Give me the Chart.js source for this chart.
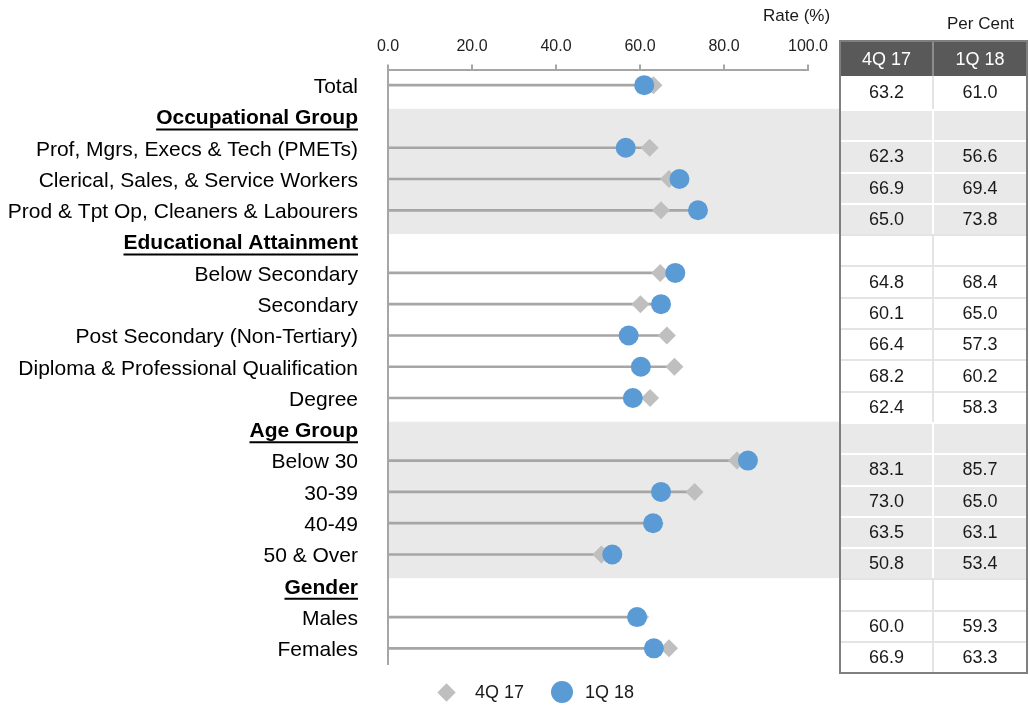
<!DOCTYPE html>
<html>
<head>
<meta charset="utf-8">
<script src="https://cdn.jsdelivr.net/npm/chart.js@4"></script>
<style>
  body { margin: 0; background: #fff; font-family: "Liberation Sans", Arial, sans-serif; }
  #wrap { position: relative; width: 1030px; height: 707px; overflow: hidden; }
  canvas { position: absolute; left: 0; top: 0; }
  .note { position: absolute; font-size: 17px; color: #1a1a1a; white-space: nowrap; }
  #tbl { position: absolute; left: 839px; top: 40px; width: 185px; border: 2px solid #7f7f7f; }
  .row { display: flex; }
  .cell { box-sizing: border-box; display: flex; align-items: center; justify-content: center; font-size: 18px; color: #1a1a1a; }
  .cell.c0 { width: 93px; }
  .cell.c1 { width: 92px; }
  .head .cell { background: #595959; color: #fff; }
  .head .c0 { border-right: 2px solid #8c8c8c; }
  .legend { position: absolute; top: 681px; font-size: 18px; color: #1a1a1a; line-height: 22px; }
  .dia { position: absolute; width: 13px; height: 13px; background: #bfbfbf; transform: rotate(45deg); }
  .dot { position: absolute; width: 22px; height: 22px; border-radius: 50%; background: #5b9bd5; }
</style>
</head>
<body>
<div id="wrap">
  <canvas id="chart" width="1030" height="707"></canvas>
  <div class="note" style="left:763px; top:6px;">Rate (%)</div>
  <div class="note" style="left:947px; top:14px;">Per Cent</div>
  <div id="tbl"></div>
  <div class="dia" style="left:440px; top:686px;"></div>
  <div class="legend" style="left:475px;">4Q 17</div>
  <div class="dot" style="left:551px; top:681px;"></div>
  <div class="legend" style="left:585px;">1Q 18</div>
</div>
<script>
const categories = [
    'Total',
    'Occupational Group',
    'Prof, Mgrs, Execs & Tech (PMETs)',
    'Clerical, Sales, & Service Workers',
    'Prod & Tpt Op, Cleaners & Labourers',
    'Educational Attainment',
    'Below Secondary',
    'Secondary',
    'Post Secondary (Non-Tertiary)',
    'Diploma & Professional Qualification',
    'Degree',
    'Age Group',
    'Below 30',
    '30-39',
    '40-49',
    '50 & Over',
    'Gender',
    'Males',
    'Females'
];
const q4_17 = [63.2, null, 62.3, 66.9, 65.0, null, 64.8, 60.1, 66.4, 68.2, 62.4, null, 83.1, 73.0, 63.5, 50.8, null, 60.0, 66.9];
const q1_18 = [61.0, null, 56.6, 69.4, 73.8, null, 68.4, 65.0, 57.3, 60.2, 58.3, null, 85.7, 65.0, 63.1, 53.4, null, 59.3, 63.3];
const headers = ['Occupational Group', 'Educational Attainment', 'Age Group', 'Gender'];
const shaded = [['Occupational Group', 'Prod & Tpt Op, Cleaners & Labourers'], ['Age Group', '50 & Over']];
const seriesNames = ['4Q 17', '1Q 18'];

const FONT = '"Liberation Sans", Arial, sans-serif';
const LABEL_SIZE = 21;
const LABEL_SHIFT = 2;
const BAND = '#e9e9e9';
const BAND_SHIFT = 8;   // the shaded rows sit a little lower than the label rows

const isHeader = (i) => headers.includes(categories[i]);
const inBand = (i) => shaded.some(([a, b]) => i >= categories.indexOf(a) && i <= categories.indexOf(b));
const stems = categories.map((c, i) => (q4_17[i] == null && q1_18[i] == null) ? null : Math.max(q4_17[i], q1_18[i]));

// right-hand table
const tbl = document.getElementById('tbl');
const head = document.createElement('div');
head.className = 'row head';
head.innerHTML = `<div class="cell c0" style="height:34px">${seriesNames[0]}</div><div class="cell c1" style="height:34px">${seriesNames[1]}</div>`;
tbl.appendChild(head);
categories.forEach((c, i) => {
    const h = i === 0 ? 33 : 31.3;
    const bg = inBand(i) ? BAND : '#fff';
    const line = inBand(i) ? '#fff' : '#e4e4e4';
    const fmt = (v) => v == null ? '' : v.toFixed(1);
    const r = document.createElement('div');
    r.className = 'row';
    r.innerHTML = `<div class="cell c0" style="height:${h}px;background:${bg};border-right:2px solid ${line};border-top:${i ? 2 : 0}px solid ${line}">${fmt(q4_17[i])}</div>` +
                  `<div class="cell c1" style="height:${h}px;background:${bg};border-top:${i ? 2 : 0}px solid ${line}">${fmt(q1_18[i])}</div>`;
    tbl.appendChild(r);
});

const bandPlugin = {
    id: 'bands',
    beforeDraw(chart) {
        const { ctx, chartArea, scales: { y } } = chart;
        const step = y.getPixelForValue(1) - y.getPixelForValue(0);
        ctx.save();
        ctx.fillStyle = BAND;
        shaded.forEach(([a, b]) => {
            const top = y.getPixelForValue(categories.indexOf(a)) - step / 2 + BAND_SHIFT;
            const bot = y.getPixelForValue(categories.indexOf(b)) + step / 2 + BAND_SHIFT;
            ctx.fillRect(chartArea.left, top, 842 - chartArea.left, bot - top);
        });
        ctx.restore();
    },
    afterDraw(chart) {
        const { ctx, scales: { y } } = chart;
        ctx.save();
        ctx.font = `bold ${LABEL_SIZE}px ${FONT}`;
        ctx.strokeStyle = '#000';
        ctx.lineWidth = 2;
        categories.forEach((c, i) => {
            if (!isHeader(i)) return;
            const right = y.right - 30;
            const w = ctx.measureText(c).width;
            const yy = y.getPixelForValue(i) + LABEL_SHIFT + 11;
            ctx.beginPath();
            ctx.moveTo(right - w, yy);
            ctx.lineTo(right, yy);
            ctx.stroke();
        });
        ctx.restore();
    }
};

new Chart(document.getElementById('chart'), {
    data: {
        labels: categories,
        datasets: [
            { type: 'line', label: seriesNames[1], data: q1_18, showLine: false, order: 1,
              pointStyle: 'circle', pointRadius: 10, pointHoverRadius: 10, pointBorderWidth: 0,
              backgroundColor: '#5b9bd5', borderColor: '#5b9bd5' },
            { type: 'line', label: seriesNames[0], data: q4_17, showLine: false, order: 2,
              pointStyle: 'rectRot', pointRadius: 9, pointHoverRadius: 9, pointBorderWidth: 0,
              backgroundColor: '#bfbfbf', borderColor: '#bfbfbf' },
            { type: 'bar', label: 'stem', data: stems, order: 3,
              barThickness: 2, backgroundColor: '#a6a6a6', borderWidth: 0 }
        ]
    },
    options: {
        indexAxis: 'y',
        responsive: false,
        animation: false,
        layout: { padding: { left: 0, right: 222, top: 0, bottom: 43 } },
        plugins: { legend: { display: false }, tooltip: { enabled: false } },
        scales: {
            x: {
                position: 'top', min: 0, max: 100,
                afterFit: (s) => { s.height = 69.5; },
                ticks: { stepSize: 20, padding: 8, color: '#222', font: { family: FONT, size: 16 },
                         callback: (v) => Number(v).toFixed(1) },
                grid: { drawOnChartArea: false, drawTicks: true, tickLength: 5, color: '#a6a6a6', lineWidth: 2 },
                border: { display: true, color: '#a6a6a6', width: 2 }
            },
            y: {
                type: 'category',
                afterFit: (s) => { s.width = 388; },
                ticks: { padding: 30, labelOffset: LABEL_SHIFT, color: '#000', autoSkip: false,
                         font: (c) => ({ family: FONT, size: LABEL_SIZE, weight: isHeader(c.index) ? 'bold' : 'normal' }) },
                grid: { display: false, drawTicks: false },
                border: { display: true, color: '#a6a6a6', width: 2 }
            }
        }
    },
    plugins: [bandPlugin]
});
</script>
</body>
</html>
